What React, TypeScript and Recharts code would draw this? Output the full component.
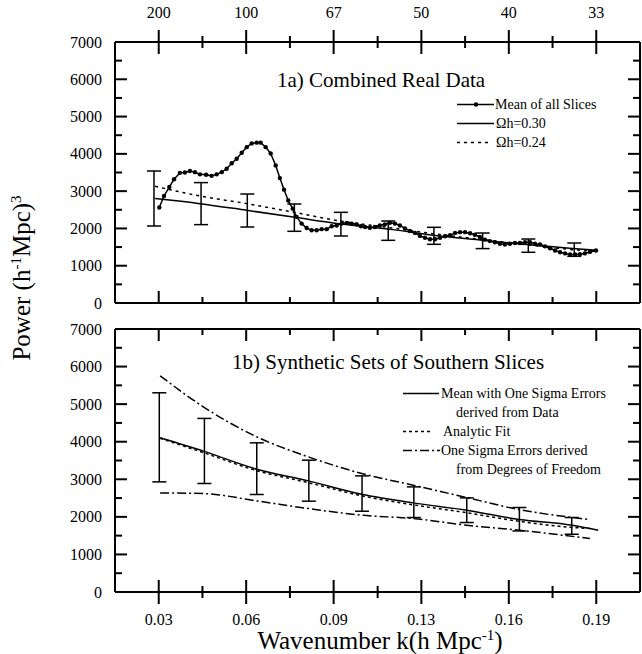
import { ComposedChart, Line, Scatter, XAxis, YAxis, ErrorBar, Legend } from "recharts";

const FONT = "'Liberation Serif', 'Times New Roman', serif";

// axis ticks: k = n*pi/100, the top axis shows the matching wavelength
const kDomain = [0.0157, 0.2042];
const kMajor = [0.0314, 0.0628, 0.0942, 0.1257, 0.1571, 0.1885];
const kMinor = [0.0471, 0.0785, 0.11, 0.1414, 0.1728];
const kLabels = ["0.03", "0.06", "0.09", "0.13", "0.16", "0.19"];
const lambdaLabels = ["200", "100", "67", "50", "40", "33"];
const yMajor = [0, 1000, 2000, 3000, 4000, 5000, 6000, 7000];
const yMinor = [500, 1500, 2500, 3500, 4500, 5500, 6500];

// 1a) mean of all slices
const meanTopK = [
  0.0316, 0.0333, 0.0352, 0.0369, 0.039, 0.0408, 0.0426, 0.0444, 0.0462, 0.0484,
  0.0504, 0.0522, 0.054, 0.0558, 0.0576, 0.0594, 0.0612, 0.063, 0.0648, 0.0666,
  0.068, 0.0698, 0.0716, 0.0734, 0.0749, 0.0764, 0.0779, 0.0795, 0.0809, 0.0827,
  0.0845, 0.0863, 0.0881, 0.0899, 0.0917, 0.0935, 0.0953, 0.0971, 0.0989, 0.1007,
  0.1025, 0.104, 0.1055, 0.1072, 0.109, 0.1108, 0.1126, 0.1144, 0.1162, 0.118,
  0.1198, 0.1216, 0.1234, 0.1252, 0.127, 0.1288, 0.1306, 0.1324, 0.1342, 0.136,
  0.1378, 0.1396, 0.1414, 0.1432, 0.1449, 0.1467, 0.1485, 0.1503, 0.1521, 0.1539,
  0.1557, 0.1575, 0.1593, 0.1611, 0.1629, 0.1647, 0.1665, 0.1683, 0.1701, 0.1719,
  0.1737, 0.1755, 0.1773, 0.1791, 0.1809, 0.1826, 0.1844, 0.1862, 0.1884,
];
const meanTopV = [
  2560, 2870, 3110, 3320, 3490, 3500, 3540, 3510, 3450, 3440,
  3410, 3450, 3510, 3600, 3750, 3870, 4030, 4180, 4280, 4300,
  4300, 4180, 4010, 3690, 3350, 3040, 2750, 2530, 2310, 2130,
  2010, 1950, 1950, 1980, 1980, 2060, 2080, 2130, 2150, 2130,
  2110, 2060, 2040, 2020, 2040, 2080, 2110, 2150, 2130, 2080,
  2000, 1930, 1880, 1800, 1750, 1710, 1710, 1750, 1790, 1820,
  1880, 1900, 1900, 1870, 1830, 1770, 1700, 1660, 1630, 1590,
  1570, 1590, 1610, 1610, 1630, 1630, 1590, 1570, 1520, 1470,
  1410, 1360, 1330, 1300, 1300, 1310, 1330, 1370, 1410,
];

// 1a) model curves
const modelTopK = [0.0301, 0.0462, 0.063, 0.0809, 0.094, 0.1155, 0.1299, 0.1478, 0.1636, 0.1801, 0.1887];
const fit30V = [2800, 2665, 2486, 2290, 2145, 1968, 1815, 1681, 1566, 1459, 1413];
const fit24V = [3130, 2870, 2665, 2420, 2230, 2010, 1860, 1700, 1560, 1430, 1390];

// 1a) error bars
const barTopK = [0.0297, 0.0466, 0.0632, 0.0801, 0.0968, 0.1138, 0.1302, 0.1477, 0.1641, 0.1806];
const barTopLo = [2065, 2102, 2038, 1923, 1797, 1681, 1574, 1459, 1360, 1252];
const barTopHi = [3540, 3229, 2923, 2655, 2432, 2199, 2030, 1877, 1716, 1609];

// 1b) synthetic sets
const synthK = [0.0319, 0.0474, 0.0666, 0.0851, 0.1043, 0.1228, 0.142, 0.1609, 0.1797, 0.1892];
const synthMeanV = [4104, 3749, 3269, 2958, 2603, 2372, 2177, 1929, 1777, 1644];
const analyticK = [0.0319, 0.0474, 0.0666, 0.0851, 0.1043, 0.1228, 0.142, 0.1609, 0.1797, 0.1862];
const analyticV = [4090, 3710, 3230, 2910, 2560, 2320, 2110, 1880, 1720, 1690];
const dofK = [0.0319, 0.0474, 0.0666, 0.0851, 0.1043, 0.1228, 0.142, 0.1609, 0.1862];
const dofUpperV = [5755, 4929, 4130, 3597, 3153, 2843, 2513, 2193, 1929];
const dofLowerV = [2638, 2621, 2425, 2222, 2044, 1955, 1777, 1644, 1423];

const barBotK = [0.0316, 0.0478, 0.0666, 0.0853, 0.1044, 0.123, 0.142, 0.1609, 0.1797];
const barBotLo = [2931, 2888, 2595, 2417, 2150, 1982, 1849, 1625, 1537];
const barBotHi = [5302, 4620, 3970, 3509, 3091, 2798, 2505, 2249, 1982];

const topLegendLabels = ["Mean of all Slices", "\u03A9h=0.30", "\u03A9h=0.24"];
const botLegendLabels = [
  "Mean with One Sigma Errors",
  "derived from Data",
  "Analytic Fit",
  "One Sigma Errors derived",
  "from Degrees of Freedom",
];

const pts = (ks: number[], vs: number[]) => ks.map((k, i) => ({ k, v: vs[i] }));
const bars = (ks: number[], lo: number[], hi: number[]) =>
  ks.map((k, i) => {
    const c = (lo[i] + hi[i]) / 2;
    return { k, v: c, e: [c - lo[i], hi[i] - c] };
  });

const meanTop = pts(meanTopK, meanTopV);
const fit30 = pts(modelTopK, fit30V);
const fit24 = pts(modelTopK, fit24V);
const barsTop = bars(barTopK, barTopLo, barTopHi);
const synthMean = pts(synthK, synthMeanV);
const analytic = pts(analyticK, analyticV);
const dofUpper = pts(dofK, dofUpperV);
const dofLower = pts(dofK, dofLowerV);
const barsBot = bars(barBotK, barBotLo, barBotHi);

const kTicks = [...kMajor, ...kMinor];
const yTicks = [...yMajor, ...yMinor];

const DASH_DOT = "9 3 2 3";

function XTick(p: any) {
  const v = p.payload.value;
  const i = kMajor.findIndex((m) => Math.abs(m - v) < 1e-6);
  const len = i >= 0 ? 12 : 6;
  const dir = p.side === "top" ? 1 : -1; // inward direction
  const y1 = p.cross ? p.y - dir * len : p.y;
  return (
    <g>
      <line x1={p.x} x2={p.x} y1={y1} y2={p.y + dir * len} stroke="#000" strokeWidth={2} />
      {p.labels && i >= 0 && (
        <text
          x={p.x}
          y={p.side === "top" ? p.y - 30 : p.y + 27}
          textAnchor="middle"
          dominantBaseline="central"
          fontFamily={FONT}
          fontSize={16}
          fill="#000"
        >
          {p.labels[i]}
        </text>
      )}
    </g>
  );
}

function YTick(p: any) {
  const v = p.payload.value;
  const major = yMajor.includes(v);
  const len = major ? 12 : 7;
  const dir = p.side === "left" ? 1 : -1;
  return (
    <g>
      <line x1={p.x} x2={p.x + dir * len} y1={p.y} y2={p.y} stroke="#000" strokeWidth={2} />
      {p.side === "left" && major && (
        <text x={p.x - 13} y={p.y} textAnchor="end" dominantBaseline="central" fontFamily={FONT} fontSize={16} fill="#000">
          {v}
        </text>
      )}
    </g>
  );
}

function Sample({ w, dash, dot }: { w: number; dash?: string; dot?: boolean }) {
  return (
    <svg width={38} height={19} style={{ display: "block", flex: "none" }}>
      {w > 0 && <line x1={0} x2={w} y1={9.5} y2={9.5} stroke="#000" strokeWidth={1.5} strokeDasharray={dash} />}
      {dot && <circle cx={19} cy={9.5} r={2.2} fill="#000" />}
    </svg>
  );
}

function Row({ children, indent = 0 }: { children: React.ReactNode; indent?: number }) {
  return (
    <div
      style={{
        display: "flex",
        alignItems: "center",
        height: 19,
        lineHeight: "19px",
        paddingLeft: indent,
        fontFamily: FONT,
        fontSize: 14,
        whiteSpace: "nowrap",
        color: "#000",
      }}
    >
      {children}
    </div>
  );
}

function TopLegend() {
  return (
    <div>
      <Row><Sample w={37} dot />{topLegendLabels[0]}</Row>
      <Row><Sample w={37} /><span style={{ marginLeft: 1 }}>{topLegendLabels[1]}</span></Row>
      <Row><Sample w={31} dash="3 4" /><span style={{ marginLeft: 1 }}>{topLegendLabels[2]}</span></Row>
    </div>
  );
}

function BotLegend() {
  return (
    <div>
      <Row><Sample w={36} />{botLegendLabels[0]}</Row>
      <Row indent={53}>{botLegendLabels[1]}</Row>
      <Row><Sample w={30} dash="3 3" /><span style={{ marginLeft: 2 }}>{botLegendLabels[2]}</span></Row>
      <Row><Sample w={37} dash={DASH_DOT} />{botLegendLabels[3]}</Row>
      <Row indent={53}>{botLegendLabels[4]}</Row>
    </div>
  );
}

const axisLine = { stroke: "#000", strokeWidth: 2 };
const xCommon = {
  type: "number" as const,
  dataKey: "k",
  domain: kDomain,
  ticks: kTicks,
  allowDataOverflow: true,
  interval: 0,
  tickLine: false,
  tickSize: 0,
  tickMargin: 0,
  axisLine,
};
const yCommon = {
  type: "number" as const,
  domain: [0, 7000],
  ticks: yTicks,
  allowDataOverflow: true,
  interval: 0,
  tickLine: false,
  tickSize: 0,
  tickMargin: 0,
  axisLine,
};

function ErrBars({ data }: { data: any[] }) {
  return (
    <Scatter data={data} dataKey="v" shape={() => <g />} isAnimationActive={false}>
      <ErrorBar dataKey="e" direction="y" width={7} stroke="#000" strokeWidth={1.5} isAnimationActive={false} />
    </Scatter>
  );
}

const sup = { fontSize: "0.6em", lineHeight: 0 };

export default function App() {
  return (
    <div style={{ position: "absolute", left: 0, top: 0, width: 642, height: 654, background: "#fff", fontFamily: FONT, color: "#000" }}>
      {/* 1a */}
      <div style={{ position: "absolute", left: 0, top: 0 }}>
        <ComposedChart width={642} height={330} margin={{ top: 0, right: 2, bottom: 27, left: 0 }}>
          <XAxis {...xCommon} mirror tick={(p: any) => <XTick {...p} side="bottom" />} />
          <XAxis {...xCommon} xAxisId="top" orientation="top" height={42} tick={(p: any) => <XTick {...p} side="top" cross labels={lambdaLabels} />} />
          <YAxis {...yCommon} width={115} tick={(p: any) => <YTick {...p} side="left" />} />
          <YAxis {...yCommon} yAxisId="r" orientation="right" mirror tick={(p: any) => <YTick {...p} side="right" />} />
          <Line data={fit24} dataKey="v" type="monotone" stroke="#000" strokeWidth={1.5} strokeDasharray="3 4" dot={false} isAnimationActive={false} />
          <Line data={fit30} dataKey="v" type="monotone" stroke="#000" strokeWidth={1.5} dot={false} isAnimationActive={false} />
          <Line data={meanTop} dataKey="v" type="linear" stroke="#000" strokeWidth={1.5} dot={{ r: 2.2, fill: "#000", stroke: "#000", strokeWidth: 0 }} isAnimationActive={false} />
          <ErrBars data={barsTop} />
          <Legend layout="horizontal" verticalAlign="middle" align="center" wrapperStyle={{ left: 457, top: 95, width: 185, height: 57 }} content={() => <TopLegend />} />
        </ComposedChart>
      </div>

      {/* 1b */}
      <div style={{ position: "absolute", left: 0, top: 310 }}>
        <ComposedChart width={642} height={344} margin={{ top: 19, right: 2, bottom: 0, left: 0 }}>
          <XAxis {...xCommon} height={62} tick={(p: any) => <XTick {...p} side="bottom" cross labels={kLabels} />} />
          <XAxis {...xCommon} xAxisId="top" orientation="top" mirror tick={(p: any) => <XTick {...p} side="top" />} />
          <YAxis {...yCommon} width={115} tick={(p: any) => <YTick {...p} side="left" />} />
          <YAxis {...yCommon} yAxisId="r" orientation="right" mirror tick={(p: any) => <YTick {...p} side="right" />} />
          <Line data={dofUpper} dataKey="v" type="monotone" stroke="#000" strokeWidth={1.5} strokeDasharray={DASH_DOT} dot={false} isAnimationActive={false} />
          <Line data={dofLower} dataKey="v" type="monotone" stroke="#000" strokeWidth={1.5} strokeDasharray={DASH_DOT} dot={false} isAnimationActive={false} />
          <Line data={analytic} dataKey="v" type="monotone" stroke="#000" strokeWidth={1.5} strokeDasharray="3 3" dot={false} isAnimationActive={false} />
          <Line data={synthMean} dataKey="v" type="monotone" stroke="#000" strokeWidth={1.5} dot={false} isAnimationActive={false} />
          <ErrBars data={barsBot} />
          <Legend layout="horizontal" verticalAlign="middle" align="center" wrapperStyle={{ left: 403, top: 74, width: 230, height: 95 }} content={() => <BotLegend />} />
        </ComposedChart>
      </div>

      <div style={{ position: "absolute", left: 277, top: 67, fontSize: 21, lineHeight: "26px", whiteSpace: "nowrap" }}>
        1a) Combined Real Data
      </div>
      <div style={{ position: "absolute", left: 232, top: 349, fontSize: 21, lineHeight: "26px", whiteSpace: "nowrap" }}>
        1b) Synthetic Sets of Southern Slices
      </div>
      <div style={{ position: "absolute", left: 380, top: 628, transform: "translateX(-50%)", fontSize: 25, lineHeight: "26px", whiteSpace: "nowrap" }}>
        Wavenumber k(h Mpc<sup style={sup}>-1</sup>)
      </div>
      <div style={{ position: "absolute", left: 22, top: 278, transform: "translate(-50%, -50%) rotate(-90deg)", fontSize: 25, lineHeight: "28px", whiteSpace: "nowrap" }}>
        Power (h<sup style={sup}>-1</sup>Mpc)<sup style={sup}>3</sup>
      </div>
    </div>
  );
}
